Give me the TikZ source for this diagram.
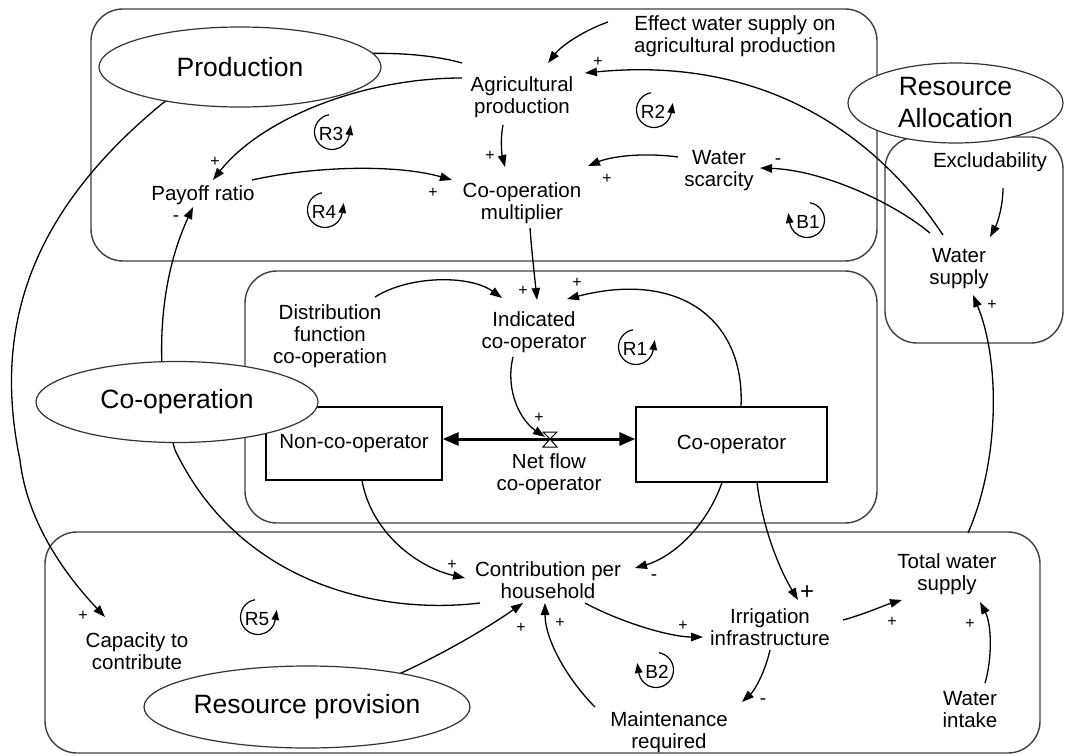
\documentclass[tikz,border=0pt]{standalone}
\usepackage{fontspec}
\setmainfont{Liberation Sans}
\usetikzlibrary{arrows.meta,calc,shapes.geometric}
\begin{document}
\begin{tikzpicture}[x=1pt,y=-1pt,
  txt/.style={align=center,inner sep=0pt,font=\fontsize{20.5}{22}\selectfont},
  bigell/.style={draw=black!80,line width=1.2pt,fill=white,ellipse,inner sep=0pt,align=center,font=\fontsize{26.5}{32}\selectfont},
  region/.style={draw=black!75,line width=1.4pt,rounded corners=32pt},
  conn/.style={draw=black,line width=1.3pt,-{Triangle[length=12pt,width=8.5pt]}},
  sgn/.style={inner sep=0pt,font=\fontsize{16}{16}\selectfont},
  msgn/.style={inner sep=0pt,font=\fontsize{19}{19}\selectfont},
  bigsgn/.style={inner sep=0pt,font=\fontsize{24}{24}\selectfont},
  stock/.style={draw=black,line width=1.3pt,fill=white,inner sep=0pt,font=\fontsize{20.5}{22}\selectfont},
  lpline/.style={line width=1.2pt,-{Triangle[length=10pt,width=7.5pt]}},
  lbl/.style={inner sep=0pt,font=\fontsize{19}{19}\selectfont},
  loopr/.pic={\draw[lpline] (-100:17.5) arc[start angle=-100,end angle=-350,radius=17.5] -- ++(1.5,-10);},
  loopb/.pic={\draw[lpline] (-80:17.5) arc[start angle=-80,end angle=170,radius=17.5] -- ++(-1.5,-10);}
]
\useasboundingbox (0,0) rectangle (1065,755);

% ---------- regions ----------
\draw[region] (91,9) rectangle (877,261);
\draw[region] (885,137) rectangle (1063,343);
\draw[region] (245,271) rectangle (877,523);
\draw[region] (45,532) rectangle (1040,753);

% ---------- variables ----------
\node[txt] (eff) at (735,36) {Effect water supply on\\agricultural production};
\node[txt] (agp) at (522,97) {Agricultural\\production};
\node[txt] (com) at (522,203) {Co-operation\\multiplier};
\node[txt] (pay) at (203,195) {Payoff ratio};
\node[txt] (wsc) at (719,171) {Water\\scarcity};
\node[txt] (exc) at (990,162) {Excludability};
\node[txt] (wsu) at (959,269) {Water\\supply};
\node[txt] (dis) at (330,336) {Distribution\\function\\co-operation};
\node[txt] (ind) at (534,332) {Indicated\\co-operator};
\node[txt] (nfl) at (549,474) {Net flow\\co-operator};
\node[txt] (cph) at (548,580) {Contribution per\\household};
\node[txt] (irr) at (770,627) {Irrigation\\infrastructure};
\node[txt] (mnt) at (669,732) {Maintenance\\required};
\node[txt] (tws) at (947,574) {Total water\\supply};
\node[txt] (win) at (970,710) {Water\\intake};
\node[txt] (cap) at (137,651) {Capacity to\\contribute};

\node[stock,minimum width=176pt,minimum height=73pt] (nco) at (354,443.5) {Non-co-operator};
\node[stock,minimum width=191pt,minimum height=75pt] (cop) at (731.5,444.5) {Co-operator};
\coordinate (valve) at (550,439);
\coordinate (rpc) at (307,707);

% ---------- connectors ----------
\draw[conn] ($(eff)+(-127,-14)$) .. controls (585,30) and (562,45) .. ($(agp)+(26,-34)$);
\draw[conn] ($(wsu)+(-16,-34)$) .. controls (880,140) and (770,55) .. ($(agp)+(63,-24)$);
\draw[conn] ($(wsu)+(-29,-36)$) .. controls (890,200) and (820,170) .. ($(wsc)+(41,-3)$);
\draw[conn] ($(wsc)+(-41,-14)$) .. controls (640,152) and (610,157) .. ($(com)+(66,-37)$);
\draw[conn] ($(exc)+(13,26)$) .. controls (1003,205) and (998,222) .. ($(wsu)+(31,-32)$);
\draw[conn] ($(agp)+(-19,28)$) .. controls (500,140) and (502,155) .. ($(com)+(-17,-36)$);
\draw[conn] ($(pay)+(49,-15)$) .. controls (320,165) and (400,165) .. ($(com)+(-70,-23)$);
\draw[conn] ($(agp)+(-60,-19)$) .. controls (360,78) and (260,120) .. ($(pay)+(10,-15)$);
\draw[conn] ($(agp)+(-60,-34)$) .. controls (380,40) and (230,60) .. (163,103)
   .. controls (20,220) and (-5,340) .. (20,460)
   .. controls (28,530) and (75,585) .. ($(cap)+(-32,-34)$);
\draw[conn] ($(cph)+(-68,23)$) .. controls (380,615) and (240,585) .. (175,450)
   .. controls (160,400) and (150,300) .. ($(pay)+(-10,12)$);
\draw[conn] ($(nco.south)+(8,0)$) .. controls (372,535) and (420,568) .. ($(cph)+(-83,-2)$);
\draw[conn] ($(cop.south)+(-9.5,0)$) .. controls (705,530) and (670,558) .. ($(cph)+(87,-12)$);
\draw[conn] ($(cop.south)+(25.5,0)$) .. controls (763,530) and (780,570) .. ($(irr)+(28,-27)$);
\draw[conn] ($(cph)+(37,23)$) .. controls (620,622) and (670,637) .. ($(irr)+(-67,10)$);
\draw[conn] ($(irr)+(0,23)$) .. controls (765,672) and (755,690) .. ($(mnt)+(73,-30)$);
\draw[conn] ($(mnt)+(-74,-25)$) .. controls (568,680) and (545,640) .. ($(cph)+(-3,23)$);
\draw[conn] (rpc) .. controls (380,690) and (470,640) .. ($(cph)+(-25,23)$);
\draw[conn] ($(irr)+(73,-7)$) .. controls (865,614) and (885,605) .. ($(tws)+(-45,26)$);
\draw[conn] ($(win)+(15,-27)$) .. controls (992,660) and (992,625) .. ($(tws)+(33,28)$);
\draw[conn] ($(tws)+(21,-41)$) .. controls (1000,460) and (1000,360) .. ($(wsu)+(14,26)$);
\draw[conn] ($(dis)+(45,-39)$) .. controls (410,275) and (470,275) .. ($(ind)+(-32,-34)$);
\draw[conn] ($(com)+(8,25)$) .. controls (532,255) and (535,280) .. ($(ind)+(3,-32)$);
\draw[conn] ($(cop.north)+(9.5,0)$) .. controls (745,320) and (680,270) .. ($(ind)+(33,-33)$);
\draw[conn] ($(ind)+(-21,25)$) .. controls (505,390) and (520,420) .. ($(valve)+(-5,-2)$);

% ---------- flow ----------
\draw[line width=3pt,{Triangle[length=16pt,width=13pt]}-{Triangle[length=16pt,width=13pt]}]
  (nco.east |- valve) -- (cop.west |- valve);
\draw[line width=1pt,fill=white] ($(valve)+(-7,-7)$) -- ($(valve)+(7,-7)$) -- (valve) -- cycle;
\draw[line width=1pt,fill=white] (valve) -- ($(valve)+(-7,8)$) -- ($(valve)+(7,8)$) -- cycle;

% ---------- sector ellipses ----------
\node[bigell,minimum width=282pt,minimum height=80pt] (eprod) at (240,67) {Production};
\node[bigell,minimum width=215pt,minimum height=80pt] (ealloc) at (955.5,103) {Resource\\Allocation};
\node[bigell,minimum width=282pt,minimum height=81pt] (ecoop) at (177,402) {Co-operation};
\node[bigell,minimum width=326pt,minimum height=82pt] (eprov) at (307,707) {Resource provision};

% ---------- polarities ----------
\node[sgn] (s1) at (215,162) {+};
\node[msgn] (s2) at (176,219) {-};
\node[sgn] (s3) at (490,156) {+};
\node[sgn] (s4) at (433,193) {+};
\node[sgn] (s5) at (607,179) {+};
\node[msgn] (s6) at (778,162) {-};
\node[sgn] (s7) at (598,62) {+};
\node[sgn] (s8) at (523,291) {+};
\node[sgn] (s9) at (577,283) {+};
\node[sgn] (s10) at (539,418) {+};
\node[sgn] (s11) at (83,616) {+};
\node[sgn] (s12) at (452,565) {+};
\node[msgn] (s13) at (654,578) {-};
\node[bigsgn] (s14) at (807,593) {+};
\node[sgn] (s15) at (683,626) {+};
\node[msgn] (s16) at (763,702) {-};
\node[sgn] (s17) at (560,623) {+};
\node[sgn] (s18) at (521,628) {+};
\node[sgn] (s19) at (892,622) {+};
\node[sgn] (s20) at (970,624) {+};
\node[sgn] (s21) at (992,305) {+};

% ---------- loop identifiers ----------
\pic at (332,132) {loopr}; \node[lbl] (r3) at (331,134) {R3};
\pic at (325,210) {loopr}; \node[lbl] (r4) at (324,212) {R4};
\pic at (654,110) {loopr}; \node[lbl] (r2) at (653,112) {R2};
\pic at (636,347) {loopr}; \node[lbl] (r1) at (635,349) {R1};
\pic at (258,617) {loopr}; \node[lbl] (r5) at (257,619) {R5};
\pic at (807,220) {loopb}; \node[lbl] (b1) at (808,222) {B1};
\pic at (656,670) {loopb}; \node[lbl] (b2) at (657,672) {B2};
\end{tikzpicture}
\end{document}
